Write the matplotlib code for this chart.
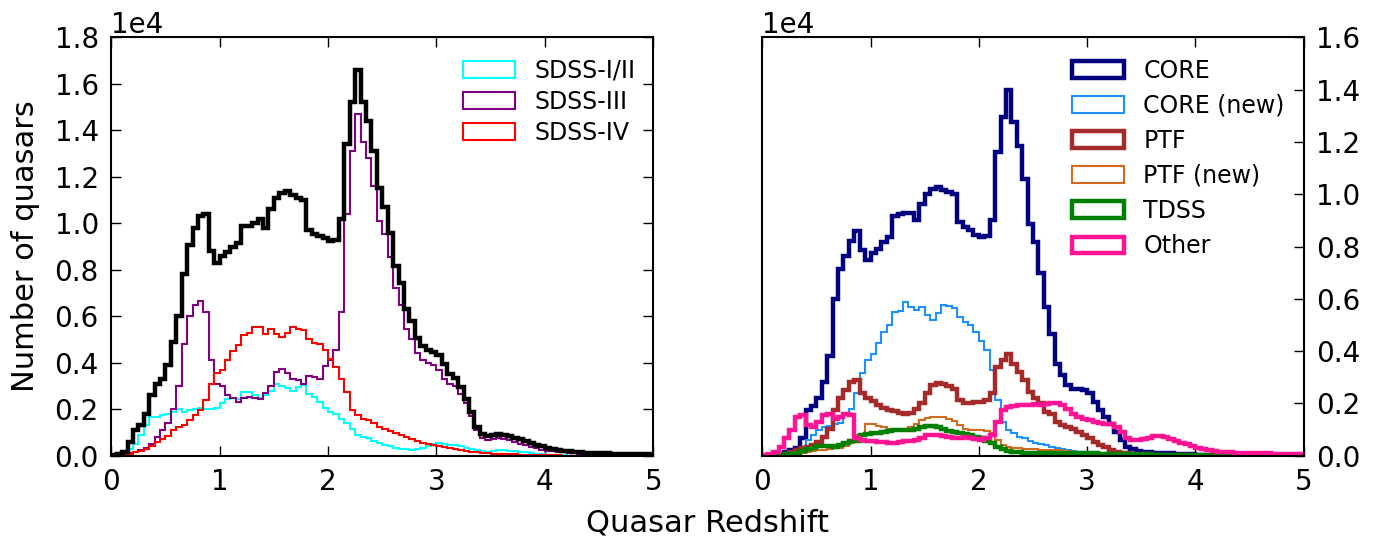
import numpy as np
import matplotlib
matplotlib.use("Agg")
import matplotlib.pyplot as plt

# bin edges of the redshift histograms (0 to 5, width 0.05)
z_edges = np.linspace(0, 5, 101)

# left panel, counts in units of 1e4 per bin
total = [0.002, 0.008, 0.017, 0.06, 0.11, 0.13, 0.18, 0.26, 0.31, 0.33,
         0.39, 0.49, 0.60, 0.78, 0.905, 0.98, 1.03, 1.04, 0.88, 0.83,
         0.86, 0.877, 0.90, 0.915, 0.99, 0.99, 1.0, 1.02, 0.98, 1.06,
         1.11, 1.13, 1.14, 1.12, 1.11, 1.10, 0.97, 0.955, 0.945, 0.935,
         0.925, 0.93, 1.02, 1.34, 1.52, 1.66, 1.52, 1.44, 1.31, 1.15,
         1.07, 0.96, 0.815, 0.745, 0.63, 0.578, 0.505, 0.47, 0.455, 0.445,
         0.435, 0.395, 0.35, 0.335, 0.295, 0.245, 0.19, 0.125, 0.092, 0.083,
         0.09, 0.095, 0.091, 0.085, 0.078, 0.072, 0.064, 0.055, 0.047, 0.04,
         0.035, 0.03, 0.026, 0.022, 0.019, 0.016, 0.014, 0.013, 0.012, 0.011,
         0.01, 0.01, 0.009, 0.009, 0.008, 0.008, 0.007, 0.007, 0.006, 0.006]
sdss_12 = [0, 0.003, 0.01, 0.03, 0.05, 0.09, 0.13, 0.165, 0.165, 0.175,
           0.18, 0.19, 0.2, 0.19, 0.195, 0.2, 0.205, 0.2, 0.2, 0.205,
           0.225, 0.245, 0.25, 0.245, 0.275, 0.275, 0.26, 0.25, 0.26, 0.28,
           0.31, 0.30, 0.29, 0.28, 0.297, 0.303, 0.265, 0.254, 0.23, 0.205,
           0.19, 0.18, 0.16, 0.14, 0.117, 0.09, 0.08, 0.075, 0.064, 0.056,
           0.046, 0.04, 0.035, 0.03, 0.027, 0.026, 0.028, 0.034, 0.042, 0.05,
           0.053, 0.052, 0.048, 0.044, 0.04, 0.035, 0.03, 0.026, 0.021, 0.018,
           0.02, 0.023, 0.024, 0.022, 0.02, 0.017, 0.014, 0.011, 0.008, 0.006,
           0.004, 0.003, 0.002, 0.001, 0, 0, 0, 0, 0, 0,
           0, 0, 0, 0, 0, 0, 0, 0, 0, 0]
sdss_3 = [0, 0.002, 0.005, 0.01, 0.015, 0.025, 0.035, 0.05, 0.08, 0.11,
          0.14, 0.2, 0.3, 0.48, 0.6, 0.65, 0.665, 0.62, 0.41, 0.31,
          0.30, 0.26, 0.25, 0.23, 0.25, 0.254, 0.25, 0.245, 0.27, 0.30,
          0.36, 0.375, 0.355, 0.33, 0.325, 0.31, 0.345, 0.34, 0.33, 0.385,
          0.41, 0.454, 0.62, 1.04, 1.31, 1.47, 1.35, 1.28, 1.16, 1.01,
          0.955, 0.855, 0.72, 0.65, 0.547, 0.50, 0.44, 0.41, 0.40, 0.39,
          0.37, 0.33, 0.31, 0.30, 0.265, 0.225, 0.17, 0.11, 0.075, 0.066,
          0.07, 0.075, 0.072, 0.066, 0.058, 0.05, 0.044, 0.037, 0.031, 0.026,
          0.022, 0.019, 0.016, 0.014, 0.012, 0.01, 0.009, 0.008, 0.007, 0.006,
          0.005, 0.005, 0.004, 0.004, 0.003, 0.003, 0.003, 0.002, 0.002, 0.002]
sdss_4 = [0, 0, 0.004, 0.008, 0.017, 0.02, 0.027, 0.04, 0.06, 0.07,
          0.085, 0.11, 0.125, 0.13, 0.153, 0.175, 0.196, 0.24, 0.31, 0.354,
          0.37, 0.41, 0.45, 0.476, 0.52, 0.53, 0.555, 0.555, 0.523, 0.547,
          0.523, 0.51, 0.526, 0.555, 0.547, 0.54, 0.504, 0.486, 0.48, 0.454,
          0.418, 0.38, 0.33, 0.275, 0.196, 0.175, 0.16, 0.153, 0.14, 0.125,
          0.115, 0.105, 0.096, 0.088, 0.08, 0.072, 0.062, 0.055, 0.05, 0.045,
          0.04, 0.036, 0.032, 0.028, 0.024, 0.02, 0.017, 0.014, 0.012, 0.01,
          0.009, 0.008, 0.007, 0.007, 0.006, 0.005, 0.004, 0.003, 0.002, 0.002,
          0.001, 0.001, 0.001, 0, 0, 0, 0, 0, 0, 0,
          0, 0, 0, 0, 0, 0, 0, 0, 0, 0]

# right panel, counts in units of 1e4 per bin
core = [0, 0.001, 0.002, 0.008, 0.015, 0.02, 0.028, 0.068, 0.174, 0.19,
        0.222, 0.28, 0.38, 0.6, 0.715, 0.763, 0.82, 0.86, 0.785, 0.747,
        0.775, 0.79, 0.817, 0.836, 0.918, 0.925, 0.93, 0.93, 0.9, 0.963,
        1.0, 1.02, 1.027, 1.017, 1.01, 1.0, 0.893, 0.874, 0.864, 0.845,
        0.836, 0.84, 0.9, 1.16, 1.294, 1.40, 1.275, 1.186, 1.058, 0.887,
        0.817, 0.70, 0.57, 0.467, 0.352, 0.308, 0.27, 0.257, 0.255, 0.25,
        0.238, 0.206, 0.174, 0.149, 0.123, 0.092, 0.06, 0.034, 0.024, 0.019,
        0.015, 0.013, 0.012, 0.011, 0.01, 0.009, 0.008, 0.007, 0.006, 0.005,
        0.004, 0.003, 0.003, 0.003, 0.002, 0.002, 0.002, 0.001, 0.001, 0.001,
        0.001, 0.001, 0.001, 0.001, 0.001, 0, 0, 0, 0, 0]
core_new = [0, 0, 0.002, 0.005, 0.01, 0.015, 0.02, 0.03, 0.06, 0.08,
            0.1, 0.11, 0.115, 0.12, 0.125, 0.155, 0.18, 0.238, 0.317, 0.365,
            0.39, 0.43, 0.473, 0.5, 0.55, 0.555, 0.588, 0.567, 0.556, 0.57,
            0.537, 0.52, 0.545, 0.575, 0.571, 0.566, 0.53, 0.511, 0.499, 0.473,
            0.44, 0.403, 0.327, 0.212, 0.13, 0.098, 0.085, 0.073, 0.066, 0.057,
            0.05, 0.045, 0.04, 0.035, 0.03, 0.026, 0.022, 0.019, 0.016, 0.013,
            0.011, 0.009, 0.007, 0.006, 0.005, 0.004, 0.003, 0.002, 0.002, 0.001,
            0.001, 0.001, 0.001, 0, 0, 0, 0, 0, 0, 0,
            0, 0, 0, 0, 0, 0, 0, 0, 0, 0,
            0, 0, 0, 0, 0, 0, 0, 0, 0, 0]
ptf = [0, 0, 0.002, 0.004, 0.008, 0.013, 0.02, 0.028, 0.034, 0.04,
       0.053, 0.073, 0.104, 0.174, 0.219, 0.253, 0.28, 0.289, 0.238, 0.219,
       0.21, 0.193, 0.184, 0.174, 0.172, 0.162, 0.16, 0.165, 0.18, 0.2,
       0.238, 0.27, 0.279, 0.275, 0.265, 0.257, 0.212, 0.2, 0.2, 0.204,
       0.206, 0.212, 0.238, 0.34, 0.365, 0.39, 0.352, 0.32, 0.289, 0.244,
       0.22, 0.2, 0.168, 0.16, 0.13, 0.117, 0.11, 0.104, 0.092, 0.079,
       0.066, 0.053, 0.04, 0.032, 0.022, 0.015, 0.012, 0.01, 0.008, 0.007,
       0.006, 0.005, 0.004, 0.003, 0.002, 0.001, 0.001, 0.001, 0.001, 0.001,
       0, 0, 0, 0, 0, 0, 0, 0, 0, 0,
       0, 0, 0, 0, 0, 0, 0, 0, 0, 0]
ptf_new = [0, 0, 0.001, 0.003, 0.005, 0.007, 0.01, 0.012, 0.015, 0.017,
           0.02, 0.022, 0.025, 0.028, 0.03, 0.037, 0.047, 0.079, 0.08, 0.12,
           0.12, 0.113, 0.108, 0.104, 0.104, 0.104, 0.102, 0.11, 0.12, 0.136,
           0.146, 0.149, 0.149, 0.149, 0.142, 0.134, 0.117, 0.104, 0.1, 0.098,
           0.098, 0.095, 0.085, 0.06, 0.04, 0.034, 0.028, 0.028, 0.026, 0.025,
           0.024, 0.023, 0.022, 0.021, 0.02, 0.019, 0.018, 0.016, 0.014, 0.013,
           0.011, 0.009, 0.008, 0.007, 0.005, 0.004, 0.003, 0.002, 0.001, 0.001,
           0.001, 0.001, 0.001, 0.001, 0.001, 0, 0, 0, 0, 0,
           0, 0, 0, 0, 0, 0, 0, 0, 0, 0,
           0, 0, 0, 0, 0, 0, 0, 0, 0, 0]
tdss = [0, 0, 0.001, 0.003, 0.005, 0.008, 0.011, 0.019, 0.025, 0.03,
        0.037, 0.038, 0.036, 0.034, 0.04, 0.047, 0.056, 0.058, 0.079, 0.083,
        0.085, 0.088, 0.092, 0.095, 0.098, 0.098, 0.1, 0.1, 0.104, 0.11,
        0.112, 0.113, 0.11, 0.104, 0.095, 0.092, 0.088, 0.083, 0.078, 0.073,
        0.066, 0.058, 0.048, 0.035, 0.024, 0.018, 0.015, 0.013, 0.012, 0.011,
        0.011, 0.011, 0.011, 0.011, 0.011, 0.01, 0.01, 0.01, 0.01, 0.01,
        0.009, 0.009, 0.008, 0.008, 0.007, 0.007, 0.006, 0.006, 0.006, 0.005,
        0.005, 0.005, 0.004, 0.004, 0.004, 0.003, 0.003, 0.003, 0.002, 0.002,
        0.002, 0.001, 0.001, 0, 0, 0, 0, 0, 0, 0,
        0, 0, 0, 0, 0, 0, 0, 0, 0, 0]
other = [0.002, 0.006, 0.015, 0.034, 0.066, 0.098, 0.149, 0.155, 0.117, 0.11,
         0.13, 0.155, 0.16, 0.142, 0.149, 0.159, 0.155, 0.066, 0.06, 0.057,
         0.055, 0.053, 0.052, 0.05, 0.05, 0.052, 0.055, 0.058, 0.06, 0.066,
         0.079, 0.079, 0.078, 0.075, 0.07, 0.067, 0.066, 0.07, 0.068, 0.064,
         0.06, 0.066, 0.08, 0.13, 0.175, 0.187, 0.19, 0.192, 0.193, 0.195,
         0.197, 0.195, 0.197, 0.2, 0.2, 0.195, 0.18, 0.16, 0.149, 0.142,
         0.136, 0.13, 0.126, 0.123, 0.12, 0.11, 0.092, 0.066, 0.06, 0.06,
         0.062, 0.066, 0.075, 0.077, 0.072, 0.065, 0.058, 0.05, 0.043, 0.037,
         0.03, 0.025, 0.021, 0.018, 0.016, 0.014, 0.013, 0.012, 0.011, 0.011,
         0.01, 0.01, 0.009, 0.009, 0.008, 0.008, 0.007, 0.007, 0.006, 0.006]

left_series = [("SDSS-I/II", sdss_12, "cyan", 1.5),
               ("SDSS-III", sdss_3, "purple", 1.5),
               ("SDSS-IV", sdss_4, "red", 1.5)]
right_series = [("CORE", core, "navy", 3.2),
                ("CORE (new)", core_new, "dodgerblue", 1.5),
                ("PTF", ptf, "brown", 3.2),
                ("PTF (new)", ptf_new, "chocolate", 1.5),
                ("TDSS", tdss, "green", 3.2),
                ("Other", other, "deeppink", 3.2)]


def step_hist(ax, valors, color, lw, label=None):
    '''Draws one step histogram from the per-bin counts (1e4 units).'''
    centres = 0.5 * (z_edges[:-1] + z_edges[1:])
    ax.hist(centres, bins=z_edges, weights=np.array(valors) * 1e4,
            histtype="step", color=color, lw=lw, label=label)


def prepara_eix(ax, ymax):
    '''Axis limits, ticks and the 1e4 offset label.'''
    ax.set_xlim(0, 5)
    ax.set_ylim(0, ymax)
    ax.set_xticks(range(6))
    ax.set_yticks(np.arange(0, ymax + 1, 2000))
    ax.ticklabel_format(style="sci", axis="y", scilimits=(0, 0))
    ax.yaxis.get_offset_text().set_fontsize(20)
    ax.tick_params(direction="in", length=7, width=1, labelsize=20, pad=9)
    for sp in ax.spines.values():
        sp.set_linewidth(1.5)


def main() -> None:
    fig = plt.figure(figsize=(13.89, 5.47), dpi=100)
    ax1 = fig.add_axes([0.0801, 0.1669, 0.3902, 0.7649])
    ax2 = fig.add_axes([0.5488, 0.1669, 0.3898, 0.7649])

    for nom, valors, color, lw in left_series:
        step_hist(ax1, valors, color, lw, nom)
    step_hist(ax1, total, "black", 3.2)
    prepara_eix(ax1, 18000)
    ax1.tick_params(top=True, right=True)
    ax1.set_ylabel("Number of quasars", fontsize=22)
    ax1.yaxis.set_label_coords(-0.131, 0.5)
    ax1.legend(loc="upper right", fontsize=17, frameon=False,
               handlelength=2.2, handleheight=0.7, labelspacing=0.3,
               bbox_to_anchor=(1.006, 1.0))

    for nom, valors, color, lw in right_series:
        step_hist(ax2, valors, color, lw, nom)
    prepara_eix(ax2, 16000)
    ax2.yaxis.tick_right()
    ax2.yaxis.set_offset_position("left")
    ax2.tick_params(top=True, left=False, right=True)
    ax2.legend(loc="upper right", fontsize=17, frameon=False,
               handlelength=2.2, handleheight=0.7, labelspacing=0.47,
               bbox_to_anchor=(1.004, 1.0))

    fig.text(0.5095, 0.044, "Quasar Redshift", fontsize=22, ha="center", va="center")
    fig.savefig("out.png", dpi=100)


if __name__ == "__main__":
    main()
